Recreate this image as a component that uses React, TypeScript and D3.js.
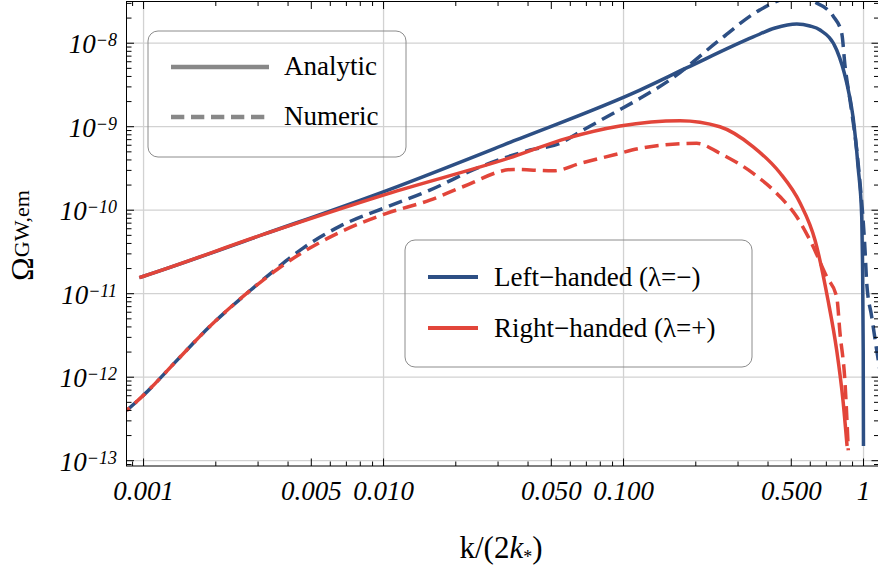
import React, { useEffect, useRef } from "react";
import * as d3 from "d3";

// [k/(2k*), Omega] pairs
const leftAnalytic: [number, number][] = [
  [0.00096, 1.56e-11], [0.001, 1.62e-11], [0.0032, 5.2e-11], [0.0103, 1.72e-10],
  [0.0348, 6.75e-10], [0.117, 2.75e-9], [0.183, 5.06e-9], [0.347, 1.19e-8],
  [0.428, 1.52e-8], [0.527, 1.7e-8], [0.598, 1.61e-8], [0.659, 1.44e-8],
  [0.773, 8.3e-9], [0.851, 3.34e-9], [0.904, 1.32e-9], [0.949, 3.3e-10],
  [0.983, 8.3e-11], [0.99, 2.5e-11], [0.997, 2.1e-12], [0.9995, 1.5e-13],
];

const rightAnalytic: [number, number][] = [
  [0.00096, 1.56e-11], [0.001, 1.62e-11], [0.0032, 5.2e-11], [0.0103, 1.56e-10],
  [0.0346, 4.36e-10], [0.058, 7.26e-10], [0.0967, 1.02e-9], [0.172, 1.18e-9],
  [0.252, 1.0e-9], [0.347, 5.75e-10], [0.449, 2.79e-10], [0.544, 1.22e-10],
  [0.628, 4.37e-11], [0.711, 8.4e-12], [0.773, 2.1e-12], [0.821, 5.3e-13],
  [0.854, 1.5e-13],
];

const leftNumeric: [number, number][] = [
  [0.00085, 4.0e-13], [0.001, 6.1e-13], [0.00138, 1.6e-12], [0.00189, 4.07e-12],
  [0.00279, 1.1e-11], [0.0036, 2.02e-11], [0.00462, 3.52e-11], [0.00659, 6.44e-11],
  [0.0103, 1.09e-10], [0.0156, 1.74e-10], [0.0253, 3.31e-10], [0.0408, 5.26e-10],
  [0.0543, 6.33e-10], [0.0659, 8.71e-10], [0.0907, 1.45e-9], [0.1172, 2.19e-9],
  [0.156, 3.63e-9], [0.252, 1.1e-8], [0.37, 2.51e-8], [0.52, 3.6e-8],
  [0.619, 3.15e-8], [0.75, 2.08e-8], [0.811, 1.32e-8], [0.838, 5.24e-9],
  [0.878, 2.09e-9], [0.937, 5.26e-10], [0.967, 2.11e-10], [1.0145, 3.33e-11],
  [1.031, 1.34e-11], [1.082, 5.27e-12], [1.135, 2.1e-12], [1.23, 5.3e-13],
];

const rightNumeric: [number, number][] = [
  [0.00085, 4.0e-13], [0.001, 6.1e-13], [0.00138, 1.6e-12], [0.00189, 4.07e-12],
  [0.00279, 1.1e-11], [0.0036, 1.95e-11], [0.00462, 3.15e-11], [0.00659, 5.46e-11],
  [0.0103, 9.16e-11], [0.0156, 1.32e-10], [0.0214, 1.91e-10], [0.0348, 3.08e-10],
  [0.051, 2.96e-10], [0.0659, 3.64e-10], [0.0907, 4.58e-10], [0.1172, 5.51e-10],
  [0.2018, 6.33e-10], [0.252, 4.8e-10], [0.347, 2.76e-10], [0.449, 1.45e-10],
  [0.527, 8.34e-11], [0.5985, 4.37e-11], [0.7026, 1.59e-11], [0.773, 9.16e-12],
  [0.798, 3.36e-12], [0.8375, 8.45e-13], [0.864, 1.33e-13],
];

const xMajorTicks = [0.001, 0.005, 0.01, 0.05, 0.1, 0.5, 1];
const xTickLabels = ["0.001", "0.005", "0.010", "0.050", "0.100", "0.500", "1"];
const xGrid = [0.001, 0.01, 0.1, 1];
const yMajorTicks = [1e-13, 1e-12, 1e-11, 1e-10, 1e-9, 1e-8];
const yTickExponents = ["\u221213", "\u221212", "\u221211", "\u221210", "\u22129", "\u22128"];

const styleLegend = ["Analytic", "Numeric"];
const helicityLegend = ["Left\u2212handed (\u03bb=\u2212)", "Right\u2212handed (\u03bb=+)"];

const BLUE = "#2d4f84";
const RED = "#e2453a";
const FONT = "'Liberation Serif', 'Times New Roman', serif";

const Chart = () => {
  const ref = useRef<SVGSVGElement>(null);

  useEffect(() => {
    const width = 878;
    const height = 569;
    const left = 126.5, right = 879, top = 1.5, bottom = 466;

    const x = d3.scaleLog().domain([0.000849, 1.16]).range([left, right]);
    const y = d3.scaleLog().domain([8.64e-14, 3.16e-8]).range([bottom, top]);

    const svg = d3.select(ref.current).attr("width", width).attr("height", height);
    svg.selectAll("*").remove();

    svg.append("rect").attr("width", width).attr("height", height).attr("fill", "white");

    svg.append("defs").append("clipPath").attr("id", "plotclip")
      .append("rect")
      .attr("x", left).attr("y", top)
      .attr("width", right - left).attr("height", bottom - top);

    // grid
    const grid = svg.append("g").attr("stroke", "#d2d2d2").attr("stroke-width", 1.3);
    grid.selectAll("line.gx").data(xGrid).join("line")
      .attr("class", "gx")
      .attr("x1", (d) => x(d)).attr("x2", (d) => x(d))
      .attr("y1", top).attr("y2", bottom);
    grid.selectAll("line.gy").data(yMajorTicks).join("line")
      .attr("class", "gy")
      .attr("x1", left).attr("x2", right)
      .attr("y1", (d) => y(d)).attr("y2", (d) => y(d));

    // curves
    const line = d3.line<[number, number]>()
      .x((d) => x(d[0]))
      .y((d) => y(d[1]))
      .curve(d3.curveMonotoneX);

    const curves = svg.append("g").attr("clip-path", "url(#plotclip)")
      .attr("fill", "none").attr("stroke-width", 3.5);
    curves.append("path").attr("d", line(leftAnalytic)).attr("stroke", BLUE);
    curves.append("path").attr("d", line(leftNumeric)).attr("stroke", BLUE)
      .attr("stroke-dasharray", "14,7");
    curves.append("path").attr("d", line(rightAnalytic)).attr("stroke", RED);
    curves.append("path").attr("d", line(rightNumeric)).attr("stroke", RED)
      .attr("stroke-dasharray", "14,7").attr("stroke-dashoffset", 10);

    // frame
    svg.append("rect")
      .attr("x", left).attr("y", top)
      .attr("width", right - left).attr("height", bottom - top)
      .attr("fill", "none").attr("stroke", "black").attr("stroke-width", 1);

    const isMajor = (v: number, list: number[]) =>
      list.some((m) => Math.abs(Math.log10(v) - Math.log10(m)) < 1e-6);

    // ticks, inside the frame on all four sides
    const ticks = svg.append("g").attr("stroke", "black").attr("stroke-width", 1);
    const xt = x.ticks().filter((t) => x(t) >= left && x(t) <= right);
    xt.forEach((t) => {
      const len = isMajor(t, xMajorTicks) ? 7.5 : 4.5;
      ticks.append("line").attr("x1", x(t)).attr("x2", x(t)).attr("y1", bottom).attr("y2", bottom - len);
      ticks.append("line").attr("x1", x(t)).attr("x2", x(t)).attr("y1", top).attr("y2", top + len);
    });
    const yt = y.ticks().filter((t) => y(t) >= top && y(t) <= bottom);
    yt.forEach((t) => {
      const len = isMajor(t, yMajorTicks) ? 7.5 : 5;
      ticks.append("line").attr("y1", y(t)).attr("y2", y(t)).attr("x1", left).attr("x2", left + len);
      ticks.append("line").attr("y1", y(t)).attr("y2", y(t)).attr("x1", right).attr("x2", right - len);
    });

    // x tick labels
    svg.append("g").selectAll("text").data(xMajorTicks).join("text")
      .attr("x", (d) => x(d)).attr("y", 500)
      .attr("text-anchor", "middle")
      .attr("font-family", FONT).attr("font-style", "italic").attr("font-size", 27)
      .text((d, i) => xTickLabels[i]);

    // y tick labels: 10^n
    const yl = svg.append("g").attr("font-family", FONT).attr("font-style", "italic");
    yMajorTicks.forEach((t, i) => {
      const txt = yl.append("text").attr("x", 117).attr("y", y(t) + 10).attr("text-anchor", "end")
        .attr("font-size", 27);
      txt.append("tspan").text("10");
      txt.append("tspan").attr("font-size", 18).attr("dy", -7).text(yTickExponents[i]);
    });

    // axis titles
    const xl = svg.append("text").attr("x", 501).attr("y", 558).attr("text-anchor", "middle")
      .attr("font-family", FONT).attr("font-size", 31);
    xl.append("tspan").text("k/(2");
    xl.append("tspan").attr("font-style", "italic").text("k");
    xl.append("tspan").attr("font-size", 18).attr("dy", 5).text("*");
    xl.append("tspan").attr("dy", -5).text(")");

    const ylab = svg.append("text").attr("transform", "translate(33,281) rotate(-90)")
      .attr("font-family", FONT).attr("font-size", 32);
    ylab.append("tspan").text("\u03a9");
    ylab.append("tspan").attr("font-size", 22).attr("dy", -4).text("GW,em");

    // legend: line styles
    const lg1 = svg.append("g").attr("font-family", FONT).attr("font-size", 27);
    lg1.append("rect").attr("x", 148).attr("y", 31).attr("width", 258).attr("height", 126)
      .attr("rx", 10).attr("fill", "none").attr("stroke", "#8c8c8c").attr("stroke-width", 1);
    styleLegend.forEach((name, i) => {
      const ly = 67 + i * 50;
      lg1.append("line").attr("x1", 171).attr("x2", i === 0 ? 269 : 266)
        .attr("y1", ly).attr("y2", ly)
        .attr("stroke", "#888").attr("stroke-width", 4.5)
        .attr("stroke-dasharray", i === 0 ? null : "13.3,6.7");
      lg1.append("text").attr("x", 284).attr("y", ly + 8).text(name);
    });

    // legend: helicities
    const lg2 = svg.append("g").attr("font-family", FONT).attr("font-size", 27);
    lg2.append("rect").attr("x", 405).attr("y", 240).attr("width", 347).attr("height", 127)
      .attr("rx", 10).attr("fill", "none").attr("stroke", "#8c8c8c").attr("stroke-width", 1);
    helicityLegend.forEach((name, i) => {
      const ly = 277 + i * 51;
      lg2.append("line").attr("x1", 428).attr("x2", 478).attr("y1", ly).attr("y2", ly)
        .attr("stroke", i === 0 ? BLUE : RED).attr("stroke-width", 4);
      lg2.append("text").attr("x", 494).attr("y", ly + 8.5).text(name);
    });
  });

  return <svg ref={ref} style={{ position: "absolute", left: 0, top: 0 }}></svg>;
};

export default function App() {
  return <Chart />;
}
